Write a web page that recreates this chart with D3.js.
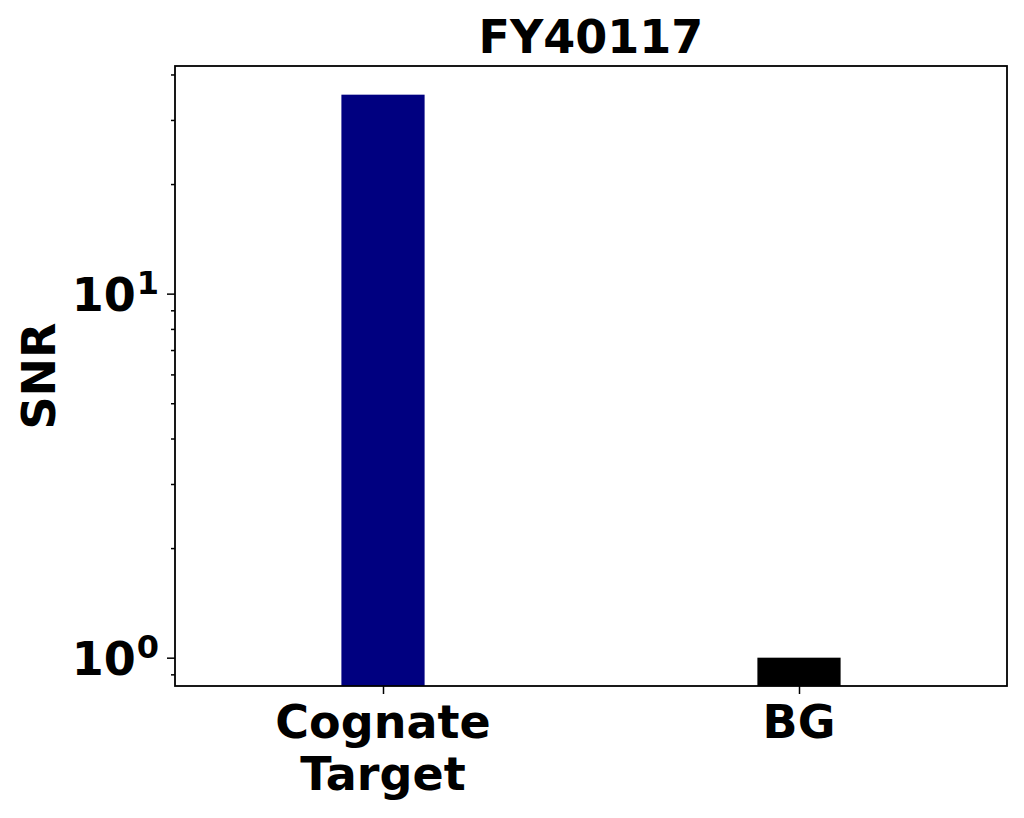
<!DOCTYPE html>
<html>
<head>
<meta charset="utf-8">
<script src="https://cdn.jsdelivr.net/npm/d3@7"></script>
<style>
  body { margin: 0; background: #fff; }
  text { font-family: "DejaVu Sans", sans-serif; font-weight: bold; }
</style>
</head>
<body>
<svg id="chart" width="1024" height="818"></svg>
<script>
// data
var categories = ["Cognate Target", "BG"]
var categoryLines = [["Cognate", "Target"], ["BG"]]
var snrValues = [35.2, 1.0]
var barColors = ["#000080", "#000000"]
var majorTicks = [1, 10]
var majorExponents = ["0", "1"]
var minorTicks = [0.9, 2, 3, 4, 5, 6, 7, 8, 9, 20, 30, 40]

var margin = { top: 66, right: 17, bottom: 132, left: 175 },
    w = 1024 - margin.left - margin.right,
    h = 818 - margin.top - margin.bottom

var svg = d3.select("#chart")
var container = svg.append("g")
    .attr("transform", `translate(${margin.left}, ${margin.top})`)

const x_scale = d3.scaleLinear().domain([-0.5, categories.length - 0.5]).range([0, w])
const y_scale = d3.scaleLog().domain([0.836, 42.2]).range([h, 0])
const barWidth = x_scale(0.2) - x_scale(0)

// bars
container.selectAll(".bar")
    .data(snrValues)
    .join("rect")
    .attr("class", "bar")
    .attr("x", (d, i) => x_scale(i) - barWidth / 2)
    .attr("y", d => y_scale(d))
    .attr("width", barWidth)
    .attr("height", d => h - y_scale(d))
    .style("fill", (d, i) => barColors[i])

// y axis, major and minor ticks
container.append("g")
    .call(d3.axisLeft(y_scale).tickValues(majorTicks).tickSize(8).tickFormat(""))
container.append("g")
    .call(d3.axisLeft(y_scale).tickValues(minorTicks).tickSize(4).tickFormat(""))
container.selectAll(".domain").remove()
container.selectAll(".tick line").attr("stroke", "#000").attr("stroke-width", 1.5)

majorTicks.forEach(function(v, i){
    var t = container.append("text")
        .attr("x", -16)
        .attr("y", y_scale(v) + 17)
        .style("text-anchor", "end")
        .attr("font-size", "46px")
    t.append("tspan").text("10")
    t.append("tspan")
        .attr("dy", -17)
        .attr("dx", 1)
        .attr("font-size", "32px")
        .text(majorExponents[i])
})

// x axis
var xAxis = container.append("g")
    .attr("transform", `translate(0, ${h})`)
    .call(d3.axisBottom(x_scale).tickValues(d3.range(categories.length)).tickSize(8).tickFormat(""))
xAxis.select(".domain").remove()
xAxis.selectAll(".tick line").attr("stroke", "#000").attr("stroke-width", 1.5)

categoryLines.forEach(function(lines, i){
    lines.forEach(function(line, j){
        container.append("text")
            .attr("x", x_scale(i))
            .attr("y", h + 52 + j * 52)
            .style("text-anchor", "middle")
            .attr("font-size", "46px")
            .text(line)
    })
})

// frame
container.append("rect")
    .attr("x", 0).attr("y", 0)
    .attr("width", w).attr("height", h)
    .attr("fill", "none")
    .attr("stroke", "#000")
    .attr("stroke-width", 1.8)

// title and y label
container.append("text")
    .attr("x", w / 2)
    .attr("y", -13)
    .style("text-anchor", "middle")
    .attr("font-size", "46px")
    .text("FY40117")

container.append("text")
    .attr("transform", "rotate(-90)")
    .attr("x", -h / 2)
    .attr("y", -120)
    .style("text-anchor", "middle")
    .attr("font-size", "46px")
    .text("SNR")
</script>
</body>
</html>
